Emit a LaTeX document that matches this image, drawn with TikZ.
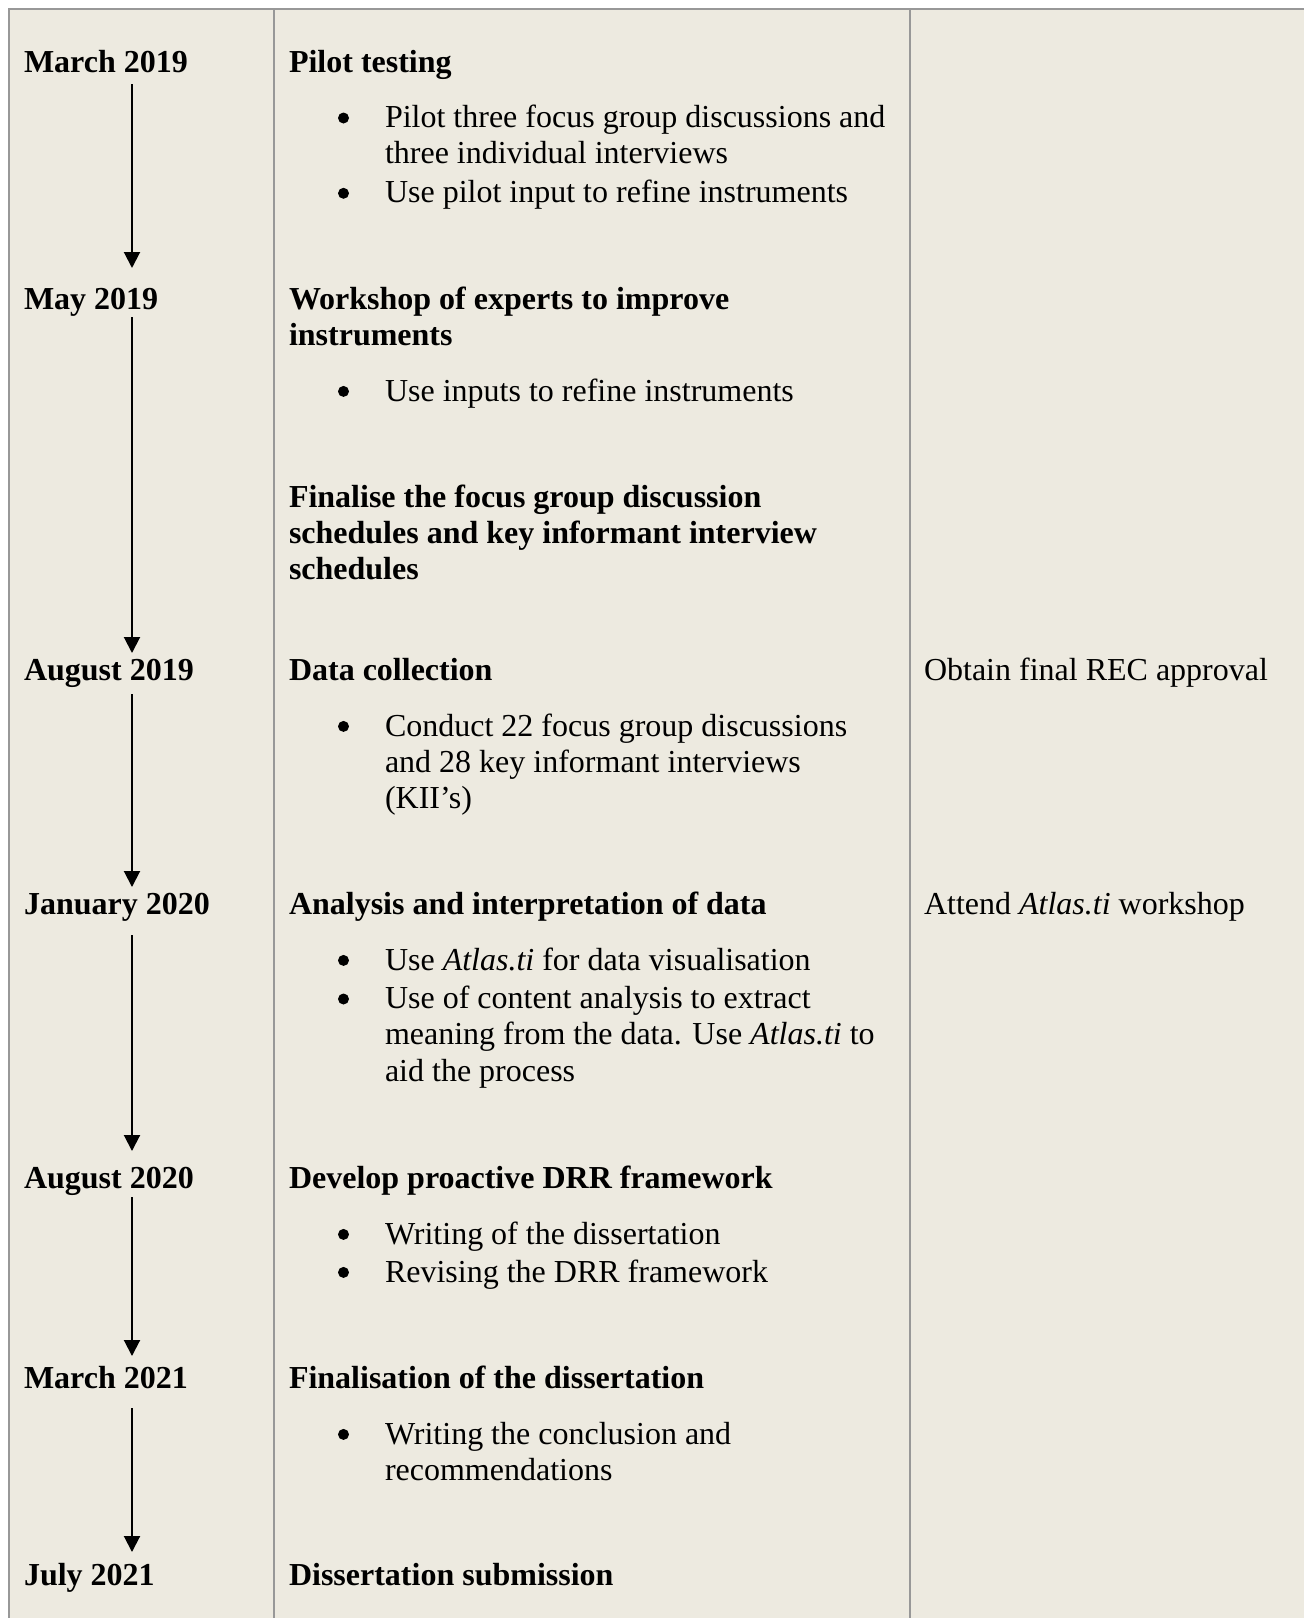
\documentclass[tikz,border=0pt]{standalone}
\usepackage{fontspec}
\setmainfont{Liberation Serif}
\usetikzlibrary{arrows.meta}
\definecolor{panel}{RGB}{237,234,224}
\definecolor{rulegray}{RGB}{152,152,152}
% multi-line cell whose baseline is that of its first line
\newcommand{\cell}[1]{\begin{tabular}[t]{@{}l@{}}#1\end{tabular}}
\tikzset{
  txt/.style={anchor=base west, inner sep=0pt, outer sep=0pt,
    font=\fontsize{32}{36.3}\selectfont},
  head/.style={txt, font=\fontsize{32}{36.3}\selectfont\bfseries},
  dot/.style={circle, fill=black, inner sep=0pt, minimum size=11pt, yshift=9.6pt},
  flow/.style={line width=2pt, -{Triangle[width=16pt,length=16pt]}},
  frame/.style={draw=rulegray, line width=2pt}
}
\begin{document}
\begin{tikzpicture}[x=1pt,y=-1pt]
\useasboundingbox (0,0) rectangle (1304,1618);
% table background and rules
\fill[panel] (9,9) rectangle (1304,1618);
\draw[frame] (9,1618) -- (9,9) -- (1304,9);
\draw[frame] (274,9) -- (274,1618);
\draw[frame] (910,9) -- (910,1618);

% dates
\node[head] (d1) at (24,72)     {March 2019};
\node[head] (d2) at (24,309)    {May 2019};
\node[head] (d3) at (24,680.5)  {August 2019};
\node[head] (d4) at (24,914)    {January 2020};
\node[head] (d5) at (24,1188)   {August 2020};
\node[head] (d6) at (24,1388)   {March 2021};
\node[head] (d7) at (24,1585)   {July 2021};

% activities
\node[head] (h1)  at (289,72)    {Pilot testing};
\node[head] (h2)  at (289,309)   {\cell{Workshop of experts to improve\\instruments}};
\node[head] (h2b) at (289,507)   {\cell{Finalise the focus group discussion\\schedules and key informant interview\\schedules}};
\node[head] (h3)  at (289,680.5) {Data collection};
\node[head] (h4)  at (289,914)   {Analysis and interpretation of data};
\node[head] (h5)  at (289,1188)  {Develop proactive DRR framework};
\node[head] (h6)  at (289,1388)  {Finalisation of the dissertation};
\node[head] (h7)  at (289,1585)  {Dissertation submission};

% bullet items
\node[dot] (p11) at (343.5,127.6) {};
\node[txt] (b11) at (385,127.6) {\cell{Pilot three focus group discussions and\\three individual interviews}};
\node[dot] (p12) at (343.5,202.9) {};
\node[txt] (b12) at (385,202.9) {Use pilot input to refine instruments};
\node[dot] (p21) at (343.5,401) {};
\node[txt] (b21) at (385,401) {Use inputs to refine instruments};
\node[dot] (p31) at (343.5,736) {};
\node[txt] (b31) at (385,736) {\cell{Conduct 22 focus group discussions\\and 28 key informant interviews\\(KII’s)}};
\node[dot] (p41) at (343.5,970) {};
\node[txt] (b41) at (385,970) {Use \textit{Atlas.ti} for data visualisation};
\node[dot] (p42) at (343.5,1008.6) {};
\node[txt] (b42) at (385,1008.6) {\cell{Use of content analysis to extract\\meaning from the data. Use \textit{Atlas.ti} to\\aid the process}};
\node[dot] (p51) at (343.5,1244) {};
\node[txt] (b51) at (385,1244) {Writing of the dissertation};
\node[dot] (p52) at (343.5,1282) {};
\node[txt] (b52) at (385,1282) {Revising the DRR framework};
\node[dot] (p61) at (343.5,1444) {};
\node[txt] (b61) at (385,1444) {\cell{Writing the conclusion and\\recommendations}};

% side notes
\node[txt] (r3) at (924,680.5) {Obtain final REC approval};
\node[txt] (r4) at (924,914)   {Attend \textit{Atlas.ti} workshop};

% timeline arrows between dates
\coordinate (a1) at (132,84);    \coordinate (e1) at (132,268);
\coordinate (a2) at (132,317);   \coordinate (e2) at (132,653);
\coordinate (a3) at (132,694);   \coordinate (e3) at (132,887);
\coordinate (a4) at (132,935);   \coordinate (e4) at (132,1151);
\coordinate (a5) at (132,1197);  \coordinate (e5) at (132,1356);
\coordinate (a6) at (132,1408);  \coordinate (e6) at (132,1552);
\draw[flow] (a1) -- (e1);
\draw[flow] (a2) -- (e2);
\draw[flow] (a3) -- (e3);
\draw[flow] (a4) -- (e4);
\draw[flow] (a5) -- (e5);
\draw[flow] (a6) -- (e6);
\end{tikzpicture}
\end{document}
